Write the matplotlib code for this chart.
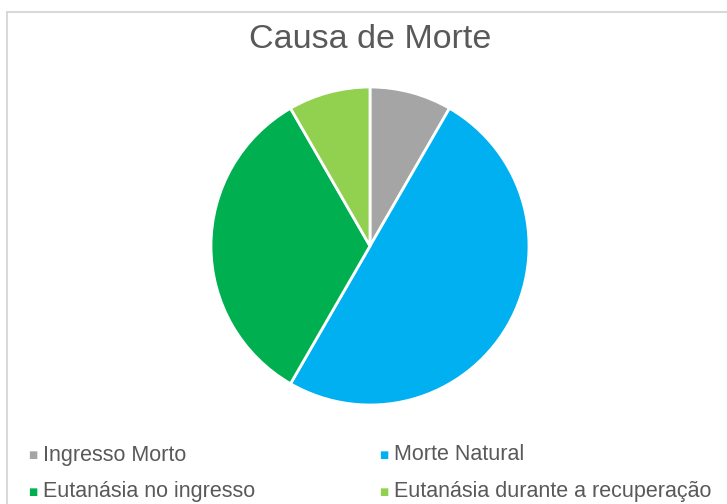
import matplotlib.pyplot as plt
from matplotlib.patches import Rectangle

plt.rcParams['font.family'] = ['Liberation Sans', 'DejaVu Sans']

labels = ['Ingresso Morto', 'Morte Natural', 'Eutanásia no ingresso', 'Eutanásia durante a recuperação']
counts = [1, 6, 4, 1]
colors = ['#A5A5A5', '#00B0F0', '#00B050', '#92D050']
title = 'Causa de Morte'
text_color = '#595959'

fig = plt.figure(figsize=(7.27, 5.04), dpi=100)

# chart frame, cropped on the right and bottom
fig.add_artist(Rectangle((7 / 727, -0.1), 1.2, 1 - 12 / 504 + 0.1, transform=fig.transFigure,
                         facecolor='none', edgecolor='#D9D9D9', linewidth=1.5))

ax = fig.add_axes([211 / 727, 99 / 504, 318 / 727, 318 / 504])
ax.pie(counts, colors=colors, startangle=90, counterclock=False,
       wedgeprops=dict(edgecolor='white', linewidth=2))
ax.set_xlim(-1, 1)
ax.set_ylim(-1, 1)
ax.set_aspect('equal')

fig.text(370 / 727, 1 - 40 / 504, title, ha='center', va='center', fontsize=24.5, color=text_color)

# legend, two columns, filled row by row
col_x = [28 / 727, 379 / 727]
row_y = [1 - 455 / 504, 1 - 492 / 504]
for i, (lab, c) in enumerate(zip(labels, colors)):
    x = col_x[i % 2]
    y = row_y[i // 2]
    fig.text(x, y, '■', ha='left', va='center', fontsize=7, color=c, family='DejaVu Sans')
    fig.text(x + 15 / 727, y, lab, ha='left', va='center', fontsize=15.5, color=text_color)

fig.savefig('out.png', dpi=100, facecolor='white')
